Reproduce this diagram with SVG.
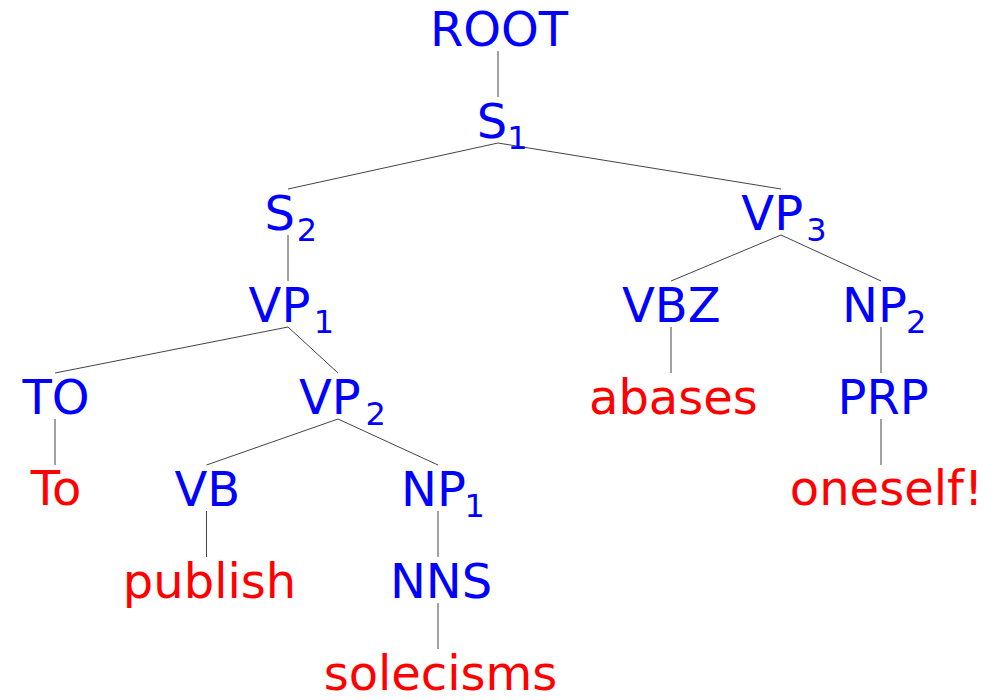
<svg xmlns="http://www.w3.org/2000/svg" width="996" height="700" viewBox="0 0 996 700">
<style>
text{font-family:"DejaVu Sans","Liberation Sans",sans-serif;font-size:48px;text-anchor:middle}
text.l{text-anchor:start}
.n{fill:#0000ff}
.w{fill:#ff0000}
.s{font-size:32px}
#edges line{stroke:#444;stroke-width:1}
</style>
<rect width="996" height="700" fill="#fff"/>
<g id="edges">
<line x1="498" y1="51" x2="498" y2="97"/>
<line x1="498" y1="143" x2="288" y2="189"/>
<line x1="498" y1="143" x2="781" y2="189"/>
<line x1="288" y1="235" x2="288" y2="281"/>
<line x1="781" y1="235" x2="671" y2="281"/>
<line x1="781" y1="235" x2="881" y2="281"/>
<line x1="288" y1="327" x2="55" y2="373"/>
<line x1="288" y1="327" x2="338" y2="373"/>
<line x1="671" y1="327" x2="671" y2="373"/>
<line x1="881" y1="327" x2="881" y2="373"/>
<line x1="55" y1="419" x2="55" y2="465"/>
<line x1="338" y1="419" x2="206.5" y2="465"/>
<line x1="338" y1="419" x2="438" y2="465"/>
<line x1="881" y1="419" x2="881" y2="465"/>
<line x1="206.5" y1="511" x2="206.5" y2="557"/>
<line x1="438" y1="511" x2="438" y2="557"/>
<line x1="438" y1="603" x2="438" y2="649"/>
</g>
<g id="ROOT"><text class="n" x="499" y="46">ROOT</text></g>
<g id="S1"><text class="n l" x="476.8" y="138">S<tspan class="s" x="507.2" dy="11">1</tspan></text></g>
<g id="S2"><text class="n l" x="264.5" y="230">S<tspan class="s" x="296.7" dy="11">2</tspan></text></g>
<g id="VP3"><text class="n l" x="741.3" y="230">VP<tspan class="s" x="806.3" dy="11">3</tspan></text></g>
<g id="VP1"><text class="n l" x="248.6" y="322">VP<tspan class="s" x="313.8" dy="11">1</tspan></text></g>
<g id="VBZ"><text class="n" x="671.3" y="322">VBZ</text></g>
<g id="NP2"><text class="n l" x="842" y="322">NP<tspan class="s" x="906" dy="11">2</tspan></text></g>
<g id="TO"><text class="n" x="56" y="414">TO</text></g>
<g id="VP2"><text class="n l" x="298.9" y="414">VP<tspan class="s" x="365.4" dy="11">2</tspan></text></g>
<g id="abases"><text class="w" x="673.4" y="414">abases</text></g>
<g id="PRP"><text class="n" x="883.2" y="414">PRP</text></g>
<g id="To"><text class="w" x="56" y="505">To</text></g>
<g id="VB"><text class="n" x="207.3" y="506">VB</text></g>
<g id="NP1"><text class="n l" x="401" y="506">NP<tspan class="s" x="464.5" dy="11">1</tspan></text></g>
<g id="oneself"><text class="w" x="886.5" y="505">oneself!</text></g>
<g id="publish"><text class="w" x="209.5" y="598">publish</text></g>
<g id="NNS"><text class="n" x="441.1" y="598">NNS</text></g>
<g id="solecisms"><text class="w" x="440.5" y="690">solecisms</text></g>
</svg>
